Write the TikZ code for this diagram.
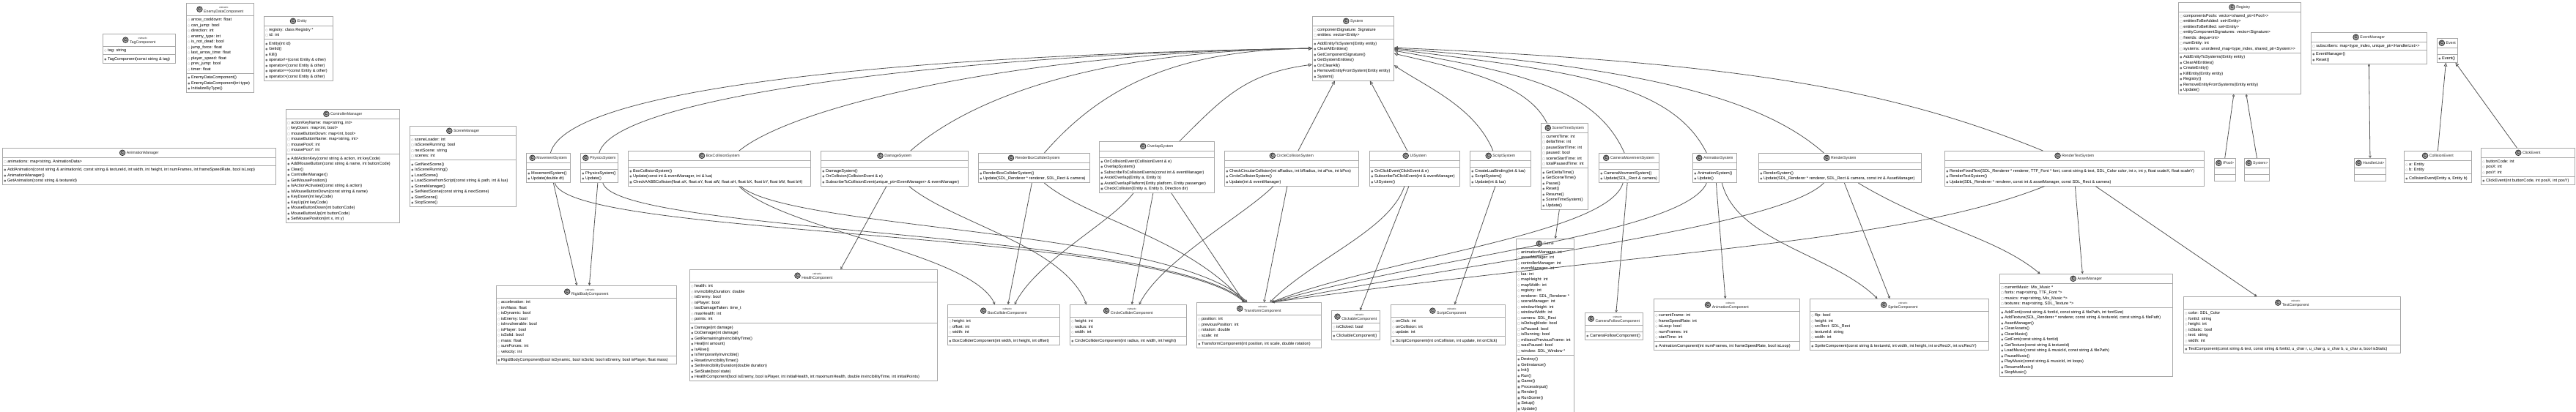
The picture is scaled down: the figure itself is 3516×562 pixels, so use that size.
\documentclass[tikz,border=0pt]{standalone}
\usepackage{fontspec}
\setmainfont{Liberation Sans}
\newfontfamily\symfont{DejaVu Sans}
\usepackage{xcolor}
\usepackage{pict2e}
\usetikzlibrary{arrows.meta,shapes.multipart}
\definecolor{boxline}{HTML}{A8A8A8}
\definecolor{wire}{HTML}{555555}
\definecolor{txt}{HTML}{222222}
\definecolor{iconfill}{HTML}{A4A4A4}
\definecolor{iconline}{HTML}{333333}
\definecolor{markgrey}{HTML}{6A6A6A}
\newcommand\rowstrut{\rule[-2.1pt]{0pt}{7.5pt}}
\newcommand\vmark[1]{\rowstrut{\symfont\fontsize{3.6}{3.6}\selectfont\textcolor{markgrey}{#1}}\hspace{1.6pt}}
\newcommand\pubf{\vmark{○}}
\newcommand\pubm{\vmark{●}}
\newcommand\privf{\vmark{□}}
\newcommand\privm{\vmark{■}}
% class icon: grey disc with a C
\newcommand\cicon{\raisebox{-2.2pt}{\setlength\unitlength{1pt}\begin{picture}(8,8)
  \put(4,4){\textcolor{iconfill}{\circle*{7.6}}}
  \put(4,4){\textcolor{iconline}{\linethickness{0.8pt}\circle{7.6}}}
  \put(4,4){\makebox(0,0){\fontsize{5.4}{5.4}\selectfont\bfseries C}}
  \end{picture}}}
\newcommand\hdr[1]{\cicon\hspace{1.8pt}{\fontsize{5.2}{6}\selectfont #1}\rule[-2.6pt]{0pt}{9pt}}
\newcommand\shdr[1]{\cicon\hspace{1.8pt}\begin{tabular}[c]{@{}c@{}}{\fontsize{3.6}{4}\selectfont «struct»}\\[-1.5pt]{\fontsize{5.2}{6}\selectfont #1}\end{tabular}}
\tikzset{
  cls/.style={rectangle split,rectangle split parts=3,rectangle split part align={center,left,left},
    rectangle split empty part height=0pt,rectangle split empty part depth=0pt,
    draw=boxline,line width=0.7pt,fill=white,anchor=north west,align=left,
    inner xsep=2pt,inner ysep=1.5pt,minimum width=#1,font=\fontsize{5.6}{7.5}\selectfont,text=txt},
  inh/.style={-{Triangle[open,length=5pt,width=4.5pt]},draw=wire,line width=0.8pt},
  dep/.style={-{Straight Barb[length=2.5pt,width=3pt]},draw=wire,line width=0.8pt},
  agg/.style={{Diamond[open,length=4.5pt,width=3pt]}-,draw=wire,line width=0.8pt},
  aggdep/.style={{Diamond[open,length=4.5pt,width=3pt]}-{Straight Barb[length=2.5pt,width=3pt]},draw=wire,line width=0.8pt}}

\begin{document}
\begin{tikzpicture}[x=1pt,y=-1pt]
  \fill[white] (0,0) rectangle (3516,562);
  \useasboundingbox (0,0) rectangle (3516,562);

  % loose classes, top left
  \node[cls=99pt] (tag) at (140,46) {\shdr{TagComponent}
    \nodepart{two}\pubf tag: string
    \nodepart{three}\pubm TagComponent(const string \& tag)};
  \node[cls=92pt] (enemy) at (254,4) {\shdr{EnemyDataComponent}
    \nodepart{two}\pubf arrow\_cooldown: float\\\pubf can\_jump: bool\\\pubf direction: int\\\pubf enemy\_type: int\\\pubf is\_not\_dead: bool\\\pubf jump\_force: float\\\pubf last\_arrow\_time: float\\\pubf player\_speed: float\\\pubf prev\_jump: bool\\\pubf timer: float
    \nodepart{three}\pubm EnemyDataComponent()\\\pubm EnemyDataComponent(int type)\\\pubm InitializeByType()};
  \node[cls=94pt] (entity) at (360,22) {\hdr{Entity}
    \nodepart{two}\pubf registry: class Registry *\\\privf id: int
    \nodepart{three}\pubm Entity(int id)\\\pubm GetId()\\\pubm Kill()\\\pubm operator!=(const Entity \& other)\\\pubm operator<(const Entity \& other)\\\pubm operator==(const Entity \& other)\\\pubm operator>(const Entity \& other)};
  \node[cls=155pt] (ctrl) at (390,149) {\hdr{ControllerManager}
    \nodepart{two}\privf actionKeyName: map<string, int>\\\privf keyDown: map<int, bool>\\\privf mouseButtonDown: map<int, bool>\\\privf mouseButtonName: map<string, int>\\\privf mousePosX: int\\\privf mousePosY: int
    \nodepart{three}\pubm AddActionKey(const string \& action, int keyCode)\\\pubm AddMouseButton(const string \& name, int buttonCode)\\\pubm Clear()\\\pubm ControllerManager()\\\pubm GetMousePosition()\\\pubm IsActionActivated(const string \& action)\\\pubm IsMouseButtonDown(const string \& name)\\\pubm KeyDown(int keyCode)\\\pubm KeyUp(int keyCode)\\\pubm MouseButtonDown(int buttonCode)\\\pubm MouseButtonUp(int buttonCode)\\\pubm SetMousePosition(int x, int y)};
  \node[cls=373pt] (animmgr) at (3,202) {\hdr{AnimationManager}
    \nodepart{two}\privf animations: map<string, AnimationData>
    \nodepart{three}\pubm AddAnimation(const string \& animationId, const string \& textureId, int width, int height, int numFrames, int frameSpeedRate, bool isLoop)\\\pubm AnimationManager()\\\pubm GetAnimation(const string \& textureId)};
  \node[cls=145pt] (scene) at (559,172) {\hdr{SceneManager}
    \nodepart{two}\pubf sceneLoader: int\\\privf isSceneRunning: bool\\\privf nextScene: string\\\privf scenes: int
    \nodepart{three}\pubm GetNextScene()\\\pubm IsSceneRunning()\\\pubm LoadScene()\\\pubm LoadScenefromScript(const string \& path, int \& lua)\\\pubm SceneManager()\\\pubm SetNextScene(const string \& nextScene)\\\pubm StartScene()\\\pubm StopScene()};

  % systems
  \node[cls=111pt] (system) at (1791,22) {\hdr{System}
    \nodepart{two}\privf componentSignature: Signature\\\privf entities: vector<Entity>
    \nodepart{three}\pubm AddEntityToSystem(Entity entity)\\\pubm ClearAllEntities()\\\pubm GetComponentSignature()\\\pubm GetSystemEntities()\\\pubm OnClearAll()\\\pubm RemoveEntityFromSystem(Entity entity)\\\pubm System()};
  \node[cls=60pt] (movement) at (718,209) {\hdr{MovementSystem}
    \nodepart{two}
    \nodepart{three}\pubm MovementSystem()\\\pubm Update(double dt)};
  \node[cls=51pt] (physics) at (792,209) {\hdr{PhysicsSystem}
    \nodepart{two}
    \nodepart{three}\pubm PhysicsSystem()\\\pubm Update()};
  \node[cls=249pt] (boxcol) at (857,206) {\hdr{BoxCollisionSystem}
    \nodepart{two}
    \nodepart{three}\pubm BoxCollisionSystem()\\\pubm Update(const int \& eventManager, int \& lua)\\\privm CheckAABBCollision(float aX, float aY, float aW, float aH, float bX, float bY, float bW, float bH)};
  \node[cls=201pt] (damage) at (1120,206) {\hdr{DamageSystem}
    \nodepart{two}
    \nodepart{three}\pubm DamageSystem()\\\pubm OnCollision(CollisionEvent \& e)\\\pubm SubscribeToCollisionEvent(unique\_ptr<EventManager> \& eventManager)};
  \node[cls=152pt] (renderbox) at (1335,209) {\hdr{RenderBoxColliderSystem}
    \nodepart{two}
    \nodepart{three}\pubm RenderBoxColliderSystem()\\\pubm Update(SDL\_Renderer * renderer, SDL\_Rect \& camera)};
  \node[cls=157pt] (overlap) at (1500,193) {\hdr{OverlapSystem}
    \nodepart{two}
    \nodepart{three}\pubm OnCollisionEvent(CollisionEvent \& e)\\\pubm OverlapSystem()\\\pubm SubscribeToCollisionEvents(const int \& eventManager)\\\privm AvoidOverlap(Entity a, Entity b)\\\privm AvoidOverlapPlatform(Entity platform, Entity passenger)\\\privm CheckCollision(Entity a, Entity b, Direction dir)};
  \node[cls=183pt] (circle) at (1671,206) {\hdr{CircleCollisionSystem}
    \nodepart{two}
    \nodepart{three}\pubm CheckCircularCollision(int aRadius, int bRadius, int aPos, int bPos)\\\pubm CircleCollisionSystem()\\\pubm Update(int \& eventManager)};
  \node[cls=123pt] (ui) at (1869,206) {\hdr{UISystem}
    \nodepart{two}
    \nodepart{three}\pubm OnClickEvent(ClickEvent \& e)\\\pubm SubscribeToClickEvent(int \& eventManager)\\\pubm UISystem()};
  \node[cls=83pt] (script) at (2006,206) {\hdr{ScriptSystem}
    \nodepart{two}
    \nodepart{three}\pubm CreateLuaBinding(int \& lua)\\\pubm ScriptSystem()\\\pubm Update(int \& lua)};
  \node[cls=64pt] (scenetime) at (2103,168) {\hdr{SceneTimeSystem}
    \nodepart{two}\privf currentTime: int\\\privf deltaTime: int\\\privf pauseStartTime: int\\\privf paused: bool\\\privf sceneStartTime: int\\\privf totalPausedTime: int
    \nodepart{three}\pubm GetDeltaTime()\\\pubm GetSceneTime()\\\pubm Pause()\\\pubm Reset()\\\pubm Resume()\\\pubm SceneTimeSystem()\\\pubm Update()};
  \node[cls=81pt] (cammove) at (2182,209) {\hdr{CameraMovementSystem}
    \nodepart{two}
    \nodepart{three}\pubm CameraMovmentSystem()\\\pubm Update(SDL\_Rect \& camera)};
  \node[cls=60pt] (animsys) at (2310,209) {\hdr{AnimationSystem}
    \nodepart{two}
    \nodepart{three}\pubm AnimationSystem()\\\pubm Update()};
  \node[cls=222pt] (render) at (2400,209) {\hdr{RenderSystem}
    \nodepart{two}
    \nodepart{three}\pubm RenderSystem()\\\pubm Update(SDL\_Renderer * renderer, SDL\_Rect \& camera, const int \& AssetManager)};
  \node[cls=354pt] (rendertext) at (2654,206) {\hdr{RenderTextSystem}
    \nodepart{two}
    \nodepart{three}\pubm RenderFixedText(SDL\_Renderer * renderer, TTF\_Font * font, const string \& text, SDL\_Color color, int x, int y, float scaleX, float scaleY)\\\pubm RenderTextSystem()\\\pubm Update(SDL\_Renderer * renderer, const int \& assetManager, const SDL\_Rect \& camera)};

  % registry and events, top right
  \node[cls=167pt] (registry) at (2973,3) {\hdr{Registry}
    \nodepart{two}\privf componentsPools: vector<shared\_ptr<IPool>{}>\\\privf entitiesToBeAdded: set<Entity>\\\privf entitiesToBeKilled: set<Entity>\\\privf entityComponentSignatures: vector<Signature>\\\privf freeIds: deque<int>\\\privf numEntity: int\\\privf systems: unordered\_map<type\_index, shared\_ptr<System>{}>
    \nodepart{three}\pubm AddEntityToSystems(Entity entity)\\\pubm ClearAllEntities()\\\pubm CreateEntity()\\\pubm KillEntity(Entity entity)\\\pubm Registry()\\\pubm RemoveEntityFromSystems(Entity entity)\\\pubm Update()};
  \node[cls=27pt] (ipool) at (3022,216) {\hdr{IPool>}\nodepart{two}\nodepart{three}};
  \node[cls=31pt] (syspt) at (3063,216) {\hdr{System>}\nodepart{two}\nodepart{three}};
  \node[cls=158pt] (evmgr) at (3154,44) {\hdr{EventManager}
    \nodepart{two}\privf subscribers: map<type\_index, unique\_ptr<HandlerList>{}>
    \nodepart{three}\pubm EventManager()\\\pubm Reset()};
  \node[cls=41pt] (handler) at (3213,216) {\hdr{HandlerList>}\nodepart{two}\nodepart{three}};
  \node[cls=28pt] (event) at (3326,52) {\hdr{Event}
    \nodepart{two}
    \nodepart{three}\pubm Event()};
  \node[cls=92pt] (colev) at (3281,206) {\hdr{CollisionEvent}
    \nodepart{two}\pubf a: Entity\\\pubf b: Entity
    \nodepart{three}\pubm CollisionEvent(Entity a, Entity b)};
  \node[cls=128pt] (clickev) at (3386,202) {\hdr{ClickEvent}
    \nodepart{two}\pubf buttonCode: int\\\pubf posX: int\\\pubf posY: int
    \nodepart{three}\pubm ClickEvent(int buttonCode, int posX, int posY)};

  % components and managers, bottom row
  \node[cls=246pt] (rigid) at (677,390) {\shdr{RigidBodyComponent}
    \nodepart{two}\pubf acceleration: int\\\pubf invMass: float\\\pubf isDynamic: bool\\\pubf isEnemy: bool\\\pubf isInvulnerable: bool\\\pubf isPlayer: bool\\\pubf isSolid: bool\\\pubf mass: float\\\pubf sumForces: int\\\pubf velocity: int
    \nodepart{three}\pubm RigidBodyComponent(bool isDynamic, bool isSolid, bool isEnemy, bool isPlayer, float mass)};
  \node[cls=338pt] (health) at (941,368) {\shdr{HealthComponent}
    \nodepart{two}\pubf health: int\\\pubf invincibilityDuration: double\\\pubf isEnemy: bool\\\pubf isPlayer: bool\\\pubf lastDamageTaken: time\_t\\\pubf maxHealth: int\\\pubf points: int
    \nodepart{three}\pubm Damage(int damage)\\\pubm DoDamage(int damage)\\\pubm GetRemainingInvincibilityTime()\\\pubm Heal(int amount)\\\pubm IsAlive()\\\pubm IsTemporarilyInvincible()\\\pubm ResetInvincibilityTimer()\\\pubm SetInvincibilityDuration(double duration)\\\pubm SetState(bool state)\\\pubm HealthComponent(bool isEnemy, bool isPlayer, int initialHealth, int maximumHealth, double invincibilityTime, int initialPoints)};
  \node[cls=153pt] (boxcomp) at (1293,416) {\shdr{BoxColliderComponent}
    \nodepart{two}\pubf height: int\\\pubf offset: int\\\pubf width: int
    \nodepart{three}\pubm BoxColliderComponent(int width, int height, int offset)};
  \node[cls=159pt] (circcomp) at (1460,416) {\shdr{CircleColliderComponent}
    \nodepart{two}\pubf height: int\\\pubf radius: int\\\pubf width: int
    \nodepart{three}\pubm CircleColliderComponent(int radius, int width, int height)};
  \node[cls=170pt] (transform) at (1633,413) {\shdr{TransformComponent}
    \nodepart{two}\pubf position: int\\\pubf previousPosition: int\\\pubf rotation: double\\\pubf scale: int
    \nodepart{three}\pubm TransformComponent(int position, int scale, double rotation)};
  \node[cls=66pt] (clickable) at (1817,424) {\shdr{ClickableComponent}
    \nodepart{two}\pubf isClicked: bool
    \nodepart{three}\pubm ClickableComponent()};
  \node[cls=156pt] (scriptcomp) at (1898,416) {\shdr{ScriptComponent}
    \nodepart{two}\pubf onClick: int\\\pubf onCollision: int\\\pubf update: int
    \nodepart{three}\pubm ScriptComponent(int onCollision, int update, int onClick)};
  \node[cls=79pt] (game) at (2069,326) {\hdr{Game}
    \nodepart{two}\pubf animationManager: int\\\pubf assetManager: int\\\pubf controllerManager: int\\\pubf eventManager: int\\\pubf lua: int\\\pubf mapHeight: int\\\pubf mapWidth: int\\\pubf registry: int\\\pubf renderer: SDL\_Renderer *\\\pubf sceneManager: int\\\pubf windowHeight: int\\\pubf windowWidth: int\\\privf camera: SDL\_Rect\\\privf isDebugMode: bool\\\privf isPaused: bool\\\privf isRunning: bool\\\privf milisecsPreviousFrame: int\\\privf wasPaused: bool\\\privf window: SDL\_Window *
    \nodepart{three}\pubm Destroy()\\\pubm GetInstance()\\\pubm Init()\\\pubm Run()\\\privm Game()\\\privm ProcessInput()\\\privm Render()\\\privm RunScene()\\\privm Setup()\\\privm Update()};
  \node[cls=79pt] (camfollow) at (2163,427) {\shdr{CameraFollowComponent}
    \nodepart{two}
    \nodepart{three}\pubm CameraFollowComponent()};
  \node[cls=199pt] (animcomp) at (2257,408) {\shdr{AnimationComponent}
    \nodepart{two}\pubf currentFrame: int\\\pubf frameSpeedRate: int\\\pubf isLoop: bool\\\pubf numFrames: int\\\pubf startTime: int
    \nodepart{three}\pubm AnimationComponent(int numFrames, int frameSpeedRate, bool isLoop)};
  \node[cls=244pt] (sprite) at (2470,408) {\shdr{SpriteComponent}
    \nodepart{two}\pubf flip: bool\\\pubf height: int\\\pubf srcRect: SDL\_Rect\\\pubf textureId: string\\\pubf width: int
    \nodepart{three}\pubm SpriteComponent(const string \& textureId, int width, int height, int srcRectX, int srcRectY)};
  \node[cls=236pt] (asset) at (2729,374) {\hdr{AssetManager}
    \nodepart{two}\privf currentMusic: Mix\_Music *\\\privf fonts: map<string, TTF\_Font *>\\\privf musics: map<string, Mix\_Music *>\\\privf textures: map<string, SDL\_Texture *>
    \nodepart{three}\pubm AddFont(const string \& fontId, const string \& filePath, int fontSize)\\\pubm AddTexture(SDL\_Renderer * renderer, const string \& textureId, const string \& filePath)\\\pubm AssetManager()\\\pubm ClearAssets()\\\pubm ClearMusic()\\\pubm GetFont(const string \& fontId)\\\pubm GetTexture(const string \& textureId)\\\pubm LoadMusic(const string \& musicId, const string \& filePath)\\\pubm PauseMusic()\\\pubm PlayMusic(const string \& musicId, int loops)\\\pubm ResumeMusic()\\\pubm StopMusic()};
  \node[cls=296pt] (textcomp) at (2980,405) {\shdr{TextComponent}
    \nodepart{two}\pubf color: SDL\_Color\\\pubf fontId: string\\\pubf height: int\\\pubf isStatic: bool\\\pubf text: string\\\pubf width: int
    \nodepart{three}\pubm TextComponent(const string \& text, const string \& fontId, u\_char r, u\_char g, u\_char b, u\_char a, bool isStatic)};

  % inheritance
  \draw[inh] ([xshift=3pt]movement.north) .. controls +(25,-95) and +(-500,8) .. (system.west);
  \draw[inh] (physics.north) .. controls +(20,-80) and +(-450,6) .. (system.west);
  \draw[inh] ([xshift=27pt]boxcol.north) .. controls +(80,-65) and +(-380,4) .. (system.west);
  \draw[inh] ([xshift=22pt]damage.north) .. controls +(80,-70) and +(-300,3) .. (system.west);
  \draw[inh] ([xshift=14pt]renderbox.north) .. controls +(70,-80) and +(-200,2) .. (system.west);
  \draw[inh] ([xshift=31pt]overlap.north) .. controls +(60,-60) and +(-90,12) .. ([yshift=-22pt]system.west);
  \draw[inh] ([xshift=9pt]circle.north) -- ([xshift=-25pt]system.south);
  \draw[inh] ([xshift=-10pt]ui.north) -- ([xshift=23pt]system.south);
  \draw[inh] ([xshift=-10pt]script.north) .. controls +(-25,-60) and +(45,30) .. ([yshift=-23pt]system.east);
  \draw[inh] ([xshift=-24pt]scenetime.north) .. controls +(-25,-50) and +(110,25) .. ([yshift=-7pt]system.east);
  \draw[inh] ([xshift=-6pt]cammove.north) .. controls +(-40,-90) and +(170,30) .. ([yshift=-3pt]system.east);
  \draw[inh] ([xshift=-11pt]animsys.north) .. controls +(-50,-100) and +(230,30) .. ([yshift=-1pt]system.east);
  \draw[inh] ([xshift=-22pt]render.north) .. controls +(-90,-80) and +(320,25) .. (system.east);
  \draw[inh] ([xshift=-43pt]rendertext.north) .. controls +(-220,-90) and +(450,20) .. ([yshift=1pt]system.east);
  \draw[inh] (colev.north) -- ([xshift=-2pt]event.south);
  \draw[inh] ([xshift=-15pt]clickev.north) -- ([xshift=11pt]event.south);

  % aggregation
  \draw[agg] ([xshift=-8pt]registry.south) -- (ipool.north);
  \draw[agg] ([xshift=9pt]registry.south) -- (syspt.north);
  \draw[aggdep] (evmgr.south) -- (handler.north);

  % dependencies
  \draw[dep] ([xshift=7pt]movement.south) -- ([xshift=-13pt]rigid.north);
  \draw[dep] ([xshift=-2pt]physics.south) -- ([xshift=4pt]rigid.north);
  \draw[dep] ([xshift=9pt]movement.south) .. controls +(20,75) and +(-110,-100) .. ([xshift=-20pt]transform.north);
  \draw[dep] ([xshift=5pt]physics.south) .. controls +(20,70) and +(-105,-98) .. ([xshift=-18pt]transform.north);
  \draw[dep] ([xshift=27pt]boxcol.south) .. controls +(60,60) and +(-30,-70) .. ([xshift=-12pt]boxcomp.north);
  \draw[dep] ([xshift=29pt]boxcol.south) .. controls +(70,60) and +(-100,-100) .. ([xshift=-16pt]transform.north);
  \draw[dep] ([xshift=-11pt]damage.south) -- ([xshift=37pt]health.north);
  \draw[dep] ([xshift=20pt]damage.south) .. controls +(60,50) and +(-30,-80) .. ([xshift=-57pt]circcomp.north);
  \draw[dep] ([xshift=-3pt]renderbox.south) -- ([xshift=6pt]boxcomp.north);
  \draw[dep] ([xshift=14pt]renderbox.south) .. controls +(60,50) and +(-80,-90) .. ([xshift=-20pt]transform.north);
  \draw[dep] ([xshift=-32pt]overlap.south) .. controls +(-30,40) and +(30,-60) .. ([xshift=15pt]boxcomp.north);
  \draw[dep] ([xshift=-5pt]overlap.south) -- ([xshift=5pt]circcomp.north);
  \draw[dep] ([xshift=20pt]overlap.south) -- ([xshift=-20pt]transform.north);
  \draw[dep] ([xshift=-25pt]circle.south) .. controls +(-40,40) and +(30,-60) .. ([xshift=15pt]circcomp.north);
  \draw[dep] ([xshift=-6pt]circle.south) -- ([xshift=7pt]transform.north);
  \draw[dep] ([xshift=-8pt]ui.south) -- ([xshift=6pt]clickable.north);
  \draw[dep] ([xshift=-14pt]ui.south) .. controls +(-20,60) and +(60,-60) .. ([xshift=15pt]transform.north);
  \draw[dep] ([xshift=-7pt]script.south) -- ([xshift=9pt]scriptcomp.north);
  \draw[dep] ([xshift=-7pt]scenetime.south) -- ([xshift=14pt]game.north);
  \draw[dep] ([xshift=-2pt]cammove.south) -- ([xshift=3pt]camfollow.north);
  \draw[dep] ([xshift=-8pt]cammove.south) .. controls +(-20,70) and +(150,-60) .. ([xshift=17pt]transform.north);
  \draw[dep] ([xshift=2pt]animsys.south) -- ([xshift=-2pt]animcomp.north);
  \draw[dep] ([xshift=10pt]animsys.south) .. controls +(20,80) and +(-60,-60) .. ([xshift=-30pt]sprite.north);
  \draw[dep] ([xshift=-11pt]animsys.south) .. controls +(-30,70) and +(200,-60) .. ([xshift=18pt]transform.north);
  \draw[dep] ([xshift=-22pt]render.south) .. controls +(-60,60) and +(300,-60) .. ([xshift=18pt]transform.north);
  \draw[dep] ([xshift=6pt]render.south) -- ([xshift=-13pt]sprite.north);
  \draw[dep] ([xshift=25pt]render.south) .. controls +(100,60) and +(-60,-50) .. ([xshift=-63pt]asset.north);
  \draw[dep] ([xshift=-41pt]rendertext.south) .. controls +(-200,80) and +(500,-70) .. ([xshift=18pt]transform.north);
  \draw[dep] ([xshift=1pt]rendertext.south) -- ([xshift=-5pt]asset.north);
  \draw[dep] ([xshift=29pt]rendertext.south) -- ([xshift=-48pt]textcomp.north);
\end{tikzpicture}
\end{document}
